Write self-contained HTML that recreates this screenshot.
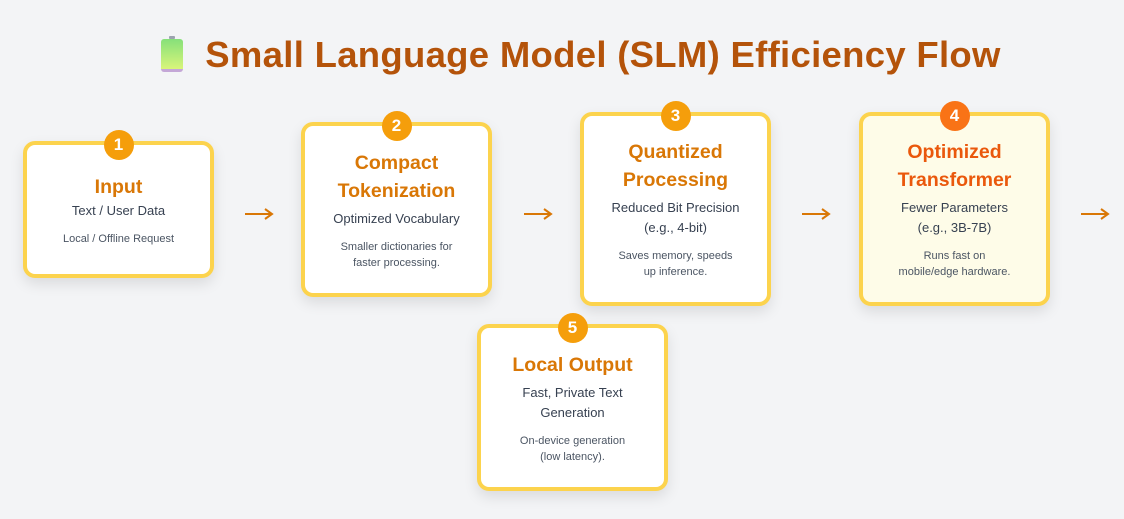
<!DOCTYPE html>
<html><head><meta charset="utf-8"><style>
body{margin:0;width:1124px;height:519px;background:#f3f4f6;font-family:"Liberation Sans","DejaVu Sans",sans-serif;position:relative;overflow:hidden}
h1{position:absolute;left:19px;width:1124px;top:34px;margin:0;text-align:center;font-size:36.5px;font-weight:900;color:#b4530a;letter-spacing:0.3px;white-space:nowrap}
.bat{display:inline-block;width:22px;height:36px;vertical-align:-5px;margin-right:22px;position:relative}
.bat i{position:absolute;left:8px;top:0;width:6px;height:3px;background:#9ca3af;border-radius:1px}
.bat b{position:absolute;left:0;top:3px;width:22px;height:33px;border-radius:3px;background:linear-gradient(#86e07a,#d9f57a);border-bottom:3px solid #c4a7d7;box-sizing:border-box}
.box{position:absolute;width:191px;box-sizing:border-box;border:4px solid #fcd34d;border-radius:12px;background:#fff;box-shadow:0 6px 14px rgba(0,0,0,.1);display:flex;flex-direction:column;align-items:center;justify-content:center;text-align:center;padding-top:0}
.badge{position:absolute;top:-15px;left:50%;margin-left:-15px;width:30px;height:30px;border-radius:50%;background:#f59e0b;color:#fff;font-weight:bold;font-size:17px;line-height:30px;text-align:center}
.t{color:#d97706;font-size:19.5px;font-weight:bold;line-height:28px}
.s{color:#374151;font-size:13px;line-height:20px;margin-top:4px}
.m{color:#4b5563;font-size:11px;line-height:16px;margin-top:10px}
.arr{position:absolute;width:30px;height:14px}
</style></head><body>
<h1><span class="bat"><i></i><b></b></span>Small Language Model (SLM) Efficiency Flow</h1>

<div class="box" style="left:23px;top:141px;height:137px"><div class="badge">1</div>
<div class="t">Input</div><div class="s" style="margin-top:0">Text / User Data</div><div class="m">Local / Offline Request</div></div>

<div class="box" style="left:301px;top:122px;height:175px"><div class="badge">2</div>
<div class="t">Compact<br>Tokenization</div><div class="s">Optimized Vocabulary</div><div class="m">Smaller dictionaries for<br>faster processing.</div></div>

<div class="box" style="left:580px;top:112px;height:194px"><div class="badge">3</div>
<div class="t">Quantized<br>Processing</div><div class="s">Reduced Bit Precision<br>(e.g., 4-bit)</div><div class="m">Saves memory, speeds<br>up inference.</div></div>

<div class="box" style="left:859px;top:112px;height:194px;background:#fefce8"><div class="badge" style="background:#f97316">4</div>
<div class="t" style="color:#ea580c">Optimized<br>Transformer</div><div class="s">Fewer Parameters<br>(e.g., 3B-7B)</div><div class="m">Runs fast on<br>mobile/edge hardware.</div></div>

<div class="box" style="left:477px;top:324px;height:167px"><div class="badge">5</div>
<div class="t">Local Output</div><div class="s">Fast, Private Text<br>Generation</div><div class="m">On-device generation<br>(low latency).</div></div>

<svg class="arr" style="left:244px;top:207px" viewBox="0 0 30 14"><path d="M1 7H28M21 2L28 7L21 12" fill="none" stroke="#d97706" stroke-width="2"/></svg>
<svg class="arr" style="left:523px;top:207px" viewBox="0 0 30 14"><path d="M1 7H28M21 2L28 7L21 12" fill="none" stroke="#d97706" stroke-width="2"/></svg>
<svg class="arr" style="left:801px;top:207px" viewBox="0 0 30 14"><path d="M1 7H28M21 2L28 7L21 12" fill="none" stroke="#d97706" stroke-width="2"/></svg>
<svg class="arr" style="left:1080px;top:207px" viewBox="0 0 30 14"><path d="M1 7H28M21 2L28 7L21 12" fill="none" stroke="#d97706" stroke-width="2"/></svg>
</body></html>
